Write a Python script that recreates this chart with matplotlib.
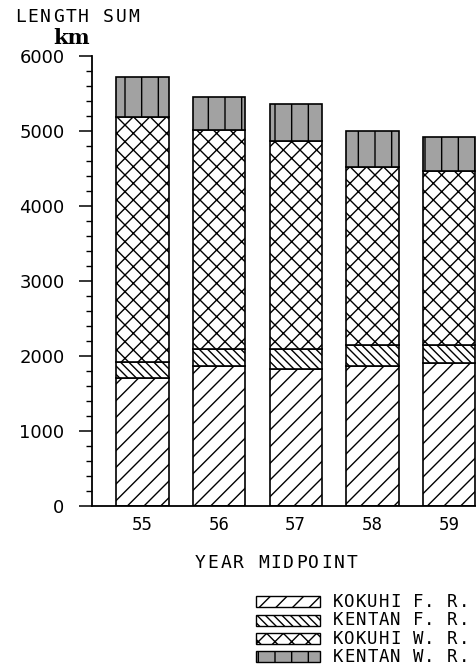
import numpy as np
import matplotlib
matplotlib.use("Agg")
import matplotlib.pyplot as plt
from matplotlib.patches import Rectangle
from matplotlib.ticker import MultipleLocator

# route length by road class, stacked per year midpoint (km)
years = [55, 56, 57, 58, 59]
kokuhi_fr = [1710, 1870, 1830, 1870, 1910]
kentan_fr = [210, 220, 260, 280, 240]
kokuhi_wr = [3260, 2920, 2780, 2370, 2320]
kentan_wr = [540, 440, 490, 480, 450]

series = [
    ("KOKUHI F. R.", kokuhi_fr, "white", "//"),
    ("KENTAN F. R.", kentan_fr, "white", "\\\\\\\\"),
    ("KOKUHI W. R.", kokuhi_wr, "white", "xx"),
    ("KENTAN W. R.", kentan_wr, "#a2a2a2", "|"),
]

W, H = 476, 665
plt.rcParams["hatch.linewidth"] = 1.0
plot_font = "DejaVu Sans Mono"

fig = plt.figure(figsize=(W / 100, H / 100), dpi=100)
ax = fig.add_axes([0.1926, 0.2391, 0.8074, 0.6771])


def pitch_text(x, y, s, pitch, size=13):
    # plotter style lettering: one glyph per fixed-width cell, pixel coords
    for i, ch in enumerate(s):
        if ch != " ":
            fig.text((x + i * pitch) / W, 1 - y / H, ch, family=plot_font,
                     fontsize=size, ha="left", va="center")


# stack the segments from the ground up
bottom = np.zeros(len(years))
for name, vals, fc, hatch in series:
    ax.bar(years, vals, width=0.68, bottom=bottom, color=fc,
           edgecolor="black", linewidth=1.2, hatch=hatch, label=name)
    bottom += np.array(vals)

ax.set_xlim(54.338, 59.35)
ax.set_ylim(0, 6000)
ax.set_xticks(years)
ax.set_xticklabels([str(y) for y in years], family=plot_font, fontsize=12.5)
ax.yaxis.set_major_locator(MultipleLocator(1000))
ax.yaxis.set_minor_locator(MultipleLocator(200))
ax.tick_params(axis="x", length=0, pad=7)
ax.tick_params(axis="y", which="major", length=9.5, width=1.1,
               pad=10, labelsize=13)
ax.tick_params(axis="y", which="minor", length=4.5, width=1.0)

for side in ["top", "right"]:
    ax.spines[side].set_visible(False)
for side in ["left", "bottom"]:
    ax.spines[side].set_linewidth(1.3)

# axis captions
pitch_text(15, 17, "LENGTH SUM", 12.6)
fig.text(72 / W, 1 - 38 / H, "km", family="DejaVu Serif", fontweight="bold",
         fontsize=15, ha="center", va="center")
pitch_text(195, 563, "YEAR MIDPOINT", 12.6)

# hand-built key at bottom right
row_y = [601.7, 620.3, 638.5, 656.7]
for (name, vals, fc, hatch), y in zip(series, row_y):
    yf = 1 - y / H
    fig.add_artist(Rectangle((256 / W, yf - 5.5 / H), 64 / W, 11 / H,
                             transform=fig.transFigure, facecolor=fc,
                             edgecolor="black", linewidth=1.0, hatch=hatch))
    pitch_text(333, y, name, 11.4, size=12.5)

fig.savefig("out.png", dpi=100)
